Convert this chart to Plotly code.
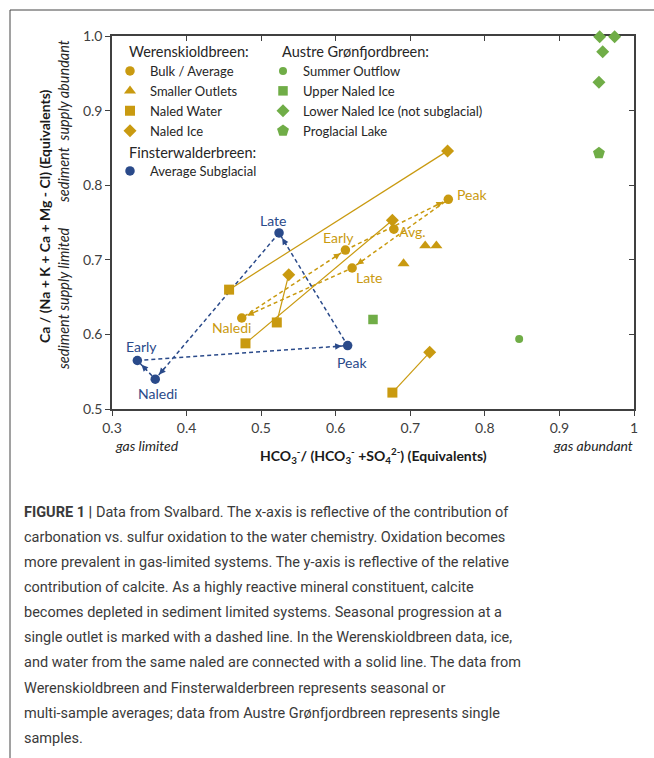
import math
import plotly.graph_objects as go

# ---------------- data ----------------
# Werenskioldbreen
wer_bulk_labels = ["Early", "Peak", "Late", "Naledi", "Avg."]
wer_bulk_x = [0.613, 0.751, 0.622, 0.474, 0.678]
wer_bulk_y = [0.713, 0.781, 0.689, 0.622, 0.741]
wer_season_cycle = ["Early", "Peak", "Late", "Naledi", "Early"]

wer_outlets_x = [0.691, 0.720, 0.735]
wer_outlets_y = [0.695, 0.719, 0.719]

wer_naled_water_x = [0.457, 0.521, 0.479, 0.676]
wer_naled_water_y = [0.660, 0.616, 0.588, 0.522]
wer_naled_ice_x = [0.750, 0.537, 0.676, 0.726]
wer_naled_ice_y = [0.846, 0.680, 0.753, 0.576]

# Finsterwalderbreen
fin_labels = ["Early", "Peak", "Late", "Naledi"]
fin_x = [0.334, 0.616, 0.524, 0.358]
fin_y = [0.565, 0.585, 0.736, 0.540]
fin_season_cycle = ["Early", "Peak", "Late", "Naledi", "Early"]

# Austre Grønfjordbreen
agf_summer_x = [0.846]
agf_summer_y = [0.594]
agf_upper_x = [0.650]
agf_upper_y = [0.620]
agf_lower_x = [0.954, 0.974, 0.958, 0.953]
agf_lower_y = [0.999, 0.999, 0.979, 0.938]
agf_lake_x = [0.953]
agf_lake_y = [0.843]

x_tickvals = [0.3, 0.4, 0.5, 0.6, 0.7, 0.8, 0.9, 1.0]
x_ticktext = ["0.3", "0.4", "0.5", "0.6", "0.7", "0.8", "0.9", "1"]
y_tickvals = [0.5, 0.6, 0.7, 0.8, 0.9, 1.0]
y_ticktext = ["0.5", "0.6", "0.7", "0.8", "0.9", "1.0"]

caption_lines = [
    "<b>FIGURE 1 |</b> Data from Svalbard. The x-axis is reflective of the contribution of",
    "carbonation vs. sulfur oxidation to the water chemistry. Oxidation becomes",
    "more prevalent in gas-limited systems. The y-axis is reflective of the relative",
    "contribution of calcite. As a highly reactive mineral constituent, calcite",
    "becomes depleted in sediment limited systems. Seasonal progression at a",
    "single outlet is marked with a dashed line. In the Werenskioldbreen data, ice,",
    "and water from the same naled are connected with a solid line. The data from",
    "Werenskioldbreen and Finsterwalderbreen represents seasonal or",
    "multi-sample averages; data from Austre Grønfjordbreen represents single",
    "samples.",
]

# ---------------- style / layout ----------------
W, H = 654, 758
PL, PR, PT, PB = 112, 634, 36, 409   # plot area in pixels
XR = (0.3, 1.0)
YR = (0.5, 1.0)
GOLD = "#C99A10"
NAVY = "#2A4A8A"
GREEN = "#70AD47"
AX = "#404040"
FONT = "Lato, Calibri, Carlito, sans-serif"
CAP_FONT = "Roboto, Liberation Sans, Arial, sans-serif"

sx = (PR - PL) / (XR[1] - XR[0])
sy = (PB - PT) / (YR[1] - YR[0])


def px2x(px):
    return (px - PL) / (PR - PL)


def py2y(py):
    return (PB - py) / (PB - PT)


fig = go.Figure()

# solid lines: naled water <-> naled ice
lx, ly = [], []
for i in range(len(wer_naled_water_x)):
    lx += [wer_naled_water_x[i], wer_naled_ice_x[i], None]
    ly += [wer_naled_water_y[i], wer_naled_ice_y[i], None]
fig.add_trace(go.Scatter(x=lx, y=ly, mode="lines", line=dict(color=GOLD, width=1.2),
                         showlegend=False, hoverinfo="skip", cliponaxis=False))

# dashed seasonal cycles
wer_idx = {n: i for i, n in enumerate(wer_bulk_labels)}
fin_idx = {n: i for i, n in enumerate(fin_labels)}
wer_cx = [wer_bulk_x[wer_idx[n]] for n in wer_season_cycle]
wer_cy = [wer_bulk_y[wer_idx[n]] for n in wer_season_cycle]
fin_cx = [fin_x[fin_idx[n]] for n in fin_season_cycle]
fin_cy = [fin_y[fin_idx[n]] for n in fin_season_cycle]
fig.add_trace(go.Scatter(x=wer_cx, y=wer_cy, mode="lines",
                         line=dict(color=GOLD, width=1.5, dash="4px,3px"),
                         showlegend=False, hoverinfo="skip"))
fig.add_trace(go.Scatter(x=fin_cx, y=fin_cy, mode="lines",
                         line=dict(color=NAVY, width=1.5, dash="4px,3px"),
                         showlegend=False, hoverinfo="skip"))


# markers (legend entries)
def mk(x, y, name, symbol, color, size, legend):
    fig.add_trace(go.Scatter(x=x, y=y, mode="markers", name=name,
                             marker=dict(symbol=symbol, color=color, size=size, line=dict(width=0)),
                             legend=legend, cliponaxis=False))


mk(wer_bulk_x, wer_bulk_y, "Bulk / Average", "circle", GOLD, 9.5, "legend")
mk(wer_outlets_x, wer_outlets_y, "Smaller Outlets", "triangle-up", GOLD, 10.5, "legend")
mk(wer_naled_water_x, wer_naled_water_y, "Naled Water", "square", GOLD, 10, "legend")
mk(wer_naled_ice_x, wer_naled_ice_y, "Naled Ice", "diamond", GOLD, 10, "legend")
mk(agf_summer_x, agf_summer_y, "Summer Outflow", "circle", GREEN, 8, "legend2")
mk(agf_upper_x, agf_upper_y, "Upper Naled Ice", "square", GREEN, 9.5, "legend2")
mk(agf_lower_x, agf_lower_y, "Lower Naled Ice (not subglacial)", "diamond", GREEN, 10, "legend2")
mk(agf_lake_x, agf_lake_y, "Proglacial Lake", "pentagon", GREEN, 12.5, "legend2")
mk(fin_x, fin_y, "Average Subglacial", "circle", NAVY, 9.5, "legend3")

# helper trace for mirrored inside ticks
fig.add_trace(go.Scatter(x=[], y=[], xaxis="x2", yaxis="y2", showlegend=False, hoverinfo="skip"))

annotations = []


# arrows on dashed cycles
def arrows(cx, cy, color):
    for i in range(len(cx) - 1):
        dxp = (cx[i + 1] - cx[i]) * sx
        dyp = (cy[i + 1] - cy[i]) * sy
        ln = math.hypot(dxp, dyp)
        L = 16
        annotations.append(dict(x=cx[i + 1], y=cy[i + 1], xref="x", yref="y", text="",
                                showarrow=True, arrowhead=2, arrowsize=1, arrowwidth=1.3,
                                arrowcolor=color, standoff=6,
                                ax=-dxp / ln * L, ay=dyp / ln * L))


arrows(wer_cx, wer_cy, GOLD)
arrows(fin_cx, fin_cy, NAVY)

# point labels (offsets in pixels)
wer_label_shift = {"Early": (-7, 13), "Peak": (24, 5), "Late": (17, -9), "Naledi": (-10, -10), "Avg.": (19, -2)}
fin_label_shift = {"Early": (4, 14), "Peak": (4, -17), "Late": (-6, 12), "Naledi": (2, -14)}
for n, (dx, dy) in wer_label_shift.items():
    i = wer_idx[n]
    annotations.append(dict(x=wer_bulk_x[i], y=wer_bulk_y[i], text=n, showarrow=False,
                            xanchor="center", yanchor="middle",
                            xshift=dx, yshift=dy, font=dict(family=FONT, size=14, color=GOLD)))
for n, (dx, dy) in fin_label_shift.items():
    i = fin_idx[n]
    annotations.append(dict(x=fin_x[i], y=fin_y[i], text=n, showarrow=False,
                            xanchor="center", yanchor="middle",
                            xshift=dx, yshift=dy, font=dict(family=FONT, size=14, color=NAVY)))

# legend headers
for txt, px, py in [("Werenskioldbreen:", 127, 51), ("Austre Grønfjordbreen:", 280, 51),
                    ("Finsterwalderbreen:", 127, 152)]:
    annotations.append(dict(x=px2x(px), y=py2y(py), xref="paper", yref="paper", text=txt,
                            showarrow=False, xanchor="left", yanchor="middle",
                            font=dict(family=FONT, size=14.5, color="#262626")))


def ann(text, px, py, size=14, xanchor="center", angle=0, color="#262626"):
    annotations.append(dict(x=px2x(px), y=py2y(py), xref="paper", yref="paper", text=text,
                            showarrow=False, xanchor=xanchor, yanchor="middle", textangle=angle,
                            font=dict(family=FONT, size=size, color=color)))


# axis titles
ann("<b>HCO<sub>3</sub><sup>-</sup>/ (HCO<sub>3</sub><sup>-</sup> +SO<sub>4</sub><sup>2-</sup>) (Equivalents)</b>",
    373, 455, color="#1a1a1a")
ann("<i>gas limited</i>", 113, 445, xanchor="left")
ann("<i>gas abundant</i>", 635, 445, xanchor="right")
ann("<b>Ca / (Na + K + Ca + Mg - Cl) (Equivalents)</b>", 44, 216, angle=-90, color="#1a1a1a")
ann("<i>sediment supply limited</i>", 63, 298, size=14.5, angle=-90)
ann("<i>sediment  supply abundant</i>", 63, 121, size=14.5, angle=-90)

# caption
for i, line in enumerate(caption_lines):
    annotations.append(dict(x=px2x(22), y=py2y(512 + i * 25.15), xref="paper", yref="paper",
                            text=line, showarrow=False, xanchor="left", yanchor="middle",
                            font=dict(family=CAP_FONT, size=14.5, color="#3a3a3a")))

# frame around figure (top + left)
shapes = [
    dict(type="line", xref="paper", yref="paper", x0=px2x(10), x1=px2x(654), y0=py2y(10), y1=py2y(10),
         line=dict(color="#444444", width=1)),
    dict(type="line", xref="paper", yref="paper", x0=px2x(10), x1=px2x(10), y0=py2y(10), y1=py2y(758),
         line=dict(color="#444444", width=1)),
]

axis_common = dict(showgrid=False, zeroline=False, linecolor=AX, linewidth=1.5,
                   tickcolor=AX, ticklen=5, tickwidth=1.2, layer="below traces",
                   tickfont=dict(family=FONT, size=14, color="#404040"))

legend_common = dict(bgcolor="rgba(0,0,0,0)", borderwidth=0, xanchor="left", yanchor="top",
                     font=dict(family=FONT, size=13, color="#262626"), tracegroupgap=0,
                     itemclick=False, itemdoubleclick=False)

fig.update_layout(
    width=W, height=H, margin=dict(l=PL, r=W - PR, t=PT, b=H - PB, pad=0),
    paper_bgcolor="white", plot_bgcolor="white",
    xaxis=dict(range=list(XR), tickvals=x_tickvals, ticktext=x_ticktext, ticks="outside",
               showline=True, mirror=True, **axis_common),
    yaxis=dict(range=list(YR), tickvals=y_tickvals, ticktext=y_ticktext, ticks="outside",
               showline=True, mirror=True, **axis_common),
    xaxis2=dict(range=list(XR), tickvals=x_tickvals, overlaying="x", side="top", ticks="inside",
                showticklabels=False, showline=False, showgrid=False, zeroline=False,
                tickcolor=AX, ticklen=5, tickwidth=1.2),
    yaxis2=dict(range=list(YR), tickvals=y_tickvals, overlaying="y", side="right", ticks="inside",
                showticklabels=False, showline=False, showgrid=False, zeroline=False,
                tickcolor=AX, ticklen=5, tickwidth=1.2),
    legend=dict(x=px2x(110), y=py2y(56), **legend_common),
    legend2=dict(x=px2x(263), y=py2y(56), **legend_common),
    legend3=dict(x=px2x(110), y=py2y(156), **legend_common),
    annotations=annotations,
    shapes=shapes,
    showlegend=True,
    hovermode=False,
)

fig.write_html("out.html", config={"displayModeBar": False},
               post_script="document.body.style.margin='0';")
